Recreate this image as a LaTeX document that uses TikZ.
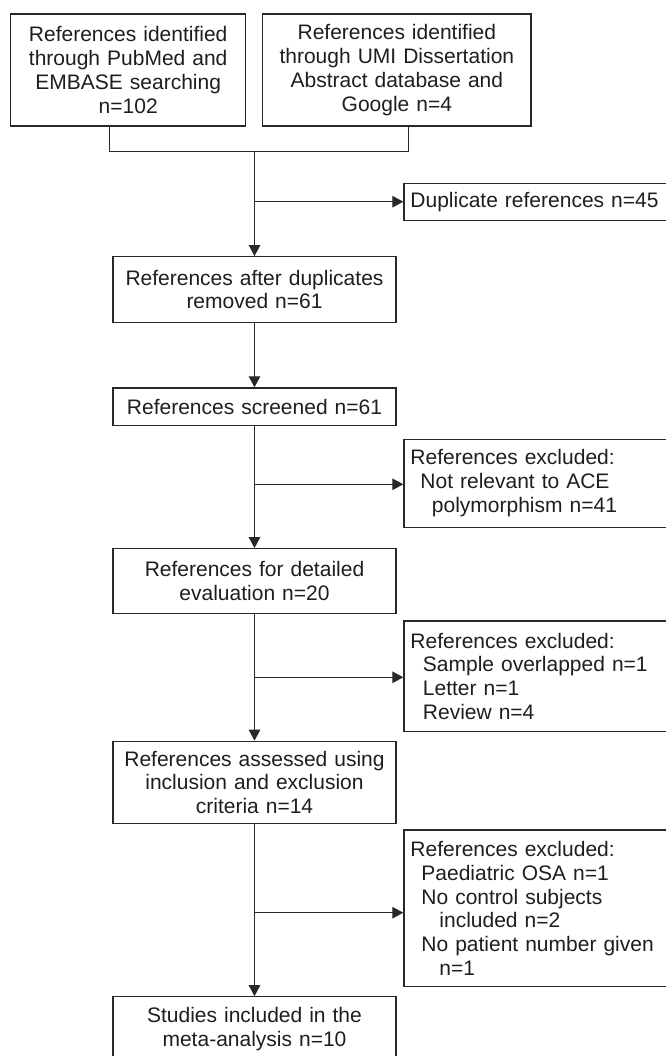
\documentclass[tikz,border=0pt]{standalone}
\usepackage{fontspec}
\setmainfont{Liberation Sans}
\usepackage{tikz}
\usetikzlibrary{arrows.meta, positioning}

\definecolor{linegray}{RGB}{40,40,40}
\definecolor{textgray}{RGB}{30,30,30}

\begin{document}
\begin{tikzpicture}[x=1pt,y=1pt,->,>={Triangle[length=11pt,width=11.5pt]},line width=1.3pt,draw=linegray]
	\tikzset{every node/.style={font=\fontsize{21}{23.8}\selectfont, text=textgray}}
	\tikzset{mainbox/.style={draw=linegray, text width=283pt, align=center, inner sep=0pt, minimum height=#1}}
	\tikzset{topbox/.style={draw=linegray, text width=#1, align=center, inner sep=0pt, minimum height=112pt}}
	\tikzset{exbox/.style={draw=linegray, anchor=west, text width=252pt, inner xsep=6.5pt, inner ysep=0pt, align=left, minimum height=#1}}
	\useasboundingbox (0,0) rectangle (665,-1056);

	% sources
	\node[topbox=235pt] (pub) at (128.2,-70) {References identified\\through PubMed and\\EMBASE searching\\n=102};
	\node[topbox=268.3pt] (umi) at (396.85,-70) {References identified\\through UMI Dissertation\\Abstract database and\\Google n=4};
	\coordinate (ja) at (109.3,-126);
	\coordinate (jb) at (408.3,-126);
	\coordinate (jm) at (254.5,-151.7);

	% main column
	\node[mainbox=65.6pt] (dedup) at (254.5,-289.5) {References after duplicates\\removed n=61};
	\node[mainbox=37.3pt] (screen) [below=64.3pt of dedup] {References screened n=61};
	\node[mainbox=65pt] (detail) [below=122.2pt of screen] {References for detailed\\evaluation n=20};
	\node[mainbox=82pt] (assess) [below=126.3pt of detail] {References assessed using\\inclusion and exclusion\\criteria n=14};
	\node[mainbox=65pt] (incl) [below=172.2pt of assess] {Studies included in the\\meta-analysis n=10};

	% side boxes
	\node[exbox=37pt] (dup) at (403.3,-201.7) {Duplicate references n=45};
	\node[exbox=88pt] (ex1) at (403.3,-483.3) {References excluded:\\\hspace*{10pt}Not relevant to ACE\\\hspace*{21.5pt}polymorphism n=41};
	\node[exbox=110.7pt] (ex2) at (403.3,-676.3) {References excluded:\\\hspace*{12.5pt}Sample overlapped n=1\\\hspace*{12.5pt}Letter n=1\\\hspace*{12.5pt}Review n=4};
	\node[exbox=156.7pt] (ex3) at (403.3,-908.3) {References excluded:\\\hspace*{11pt}Paediatric OSA n=1\\\hspace*{11pt}No control subjects\\\hspace*{29pt}included n=2\\\hspace*{11pt}No patient number given\\\hspace*{29pt}n=1};

	\draw[-] (ja) |- (jm) -| (jb);
	\path
		(jm) edge (dedup)
		(dedup) edge (screen)
		(screen) edge (detail)
		(detail) edge (assess)
		(assess) edge (incl);
	\draw (jm |- dup.west) -- (dup.west);
	\draw ([yshift=-1pt]dedup.south |- ex1.west) -- ([yshift=-1pt]ex1.west);
	\draw ([yshift=-1pt]dedup.south |- ex2.west) -- ([yshift=-1pt]ex2.west);
	\draw ([yshift=-4.4pt]dedup.south |- ex3.west) -- ([yshift=-4.4pt]ex3.west);
\end{tikzpicture}
\end{document}
